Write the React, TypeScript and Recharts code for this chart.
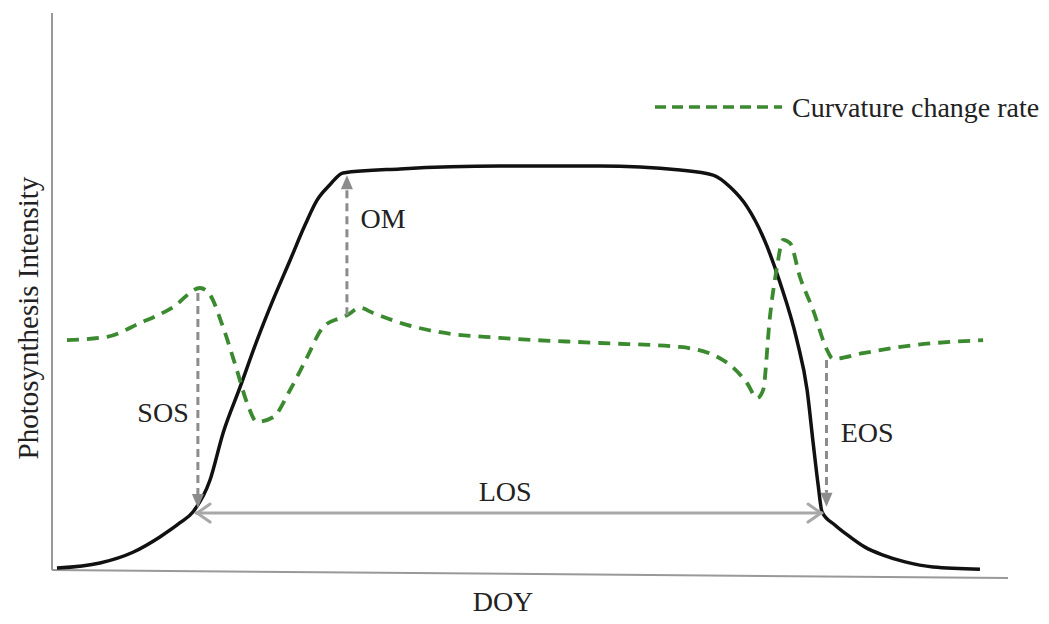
import React from 'react';
import { LineChart, Line, XAxis, YAxis, ReferenceLine, ReferenceDot, Legend } from 'recharts';

// fitted photosynthesis curve (DOY vs intensity, 0..1)
const sigDoy = [1.9, 18.3, 30.9, 41.2, 48.9, 53.8, 60.3, 65.3, 71.8, 78.3, 84.4, 90.9, 96.6, 101.2, 106.1, 111.1, 132.9, 171.0, 209.2, 239.8, 252.4, 258.9, 265.4, 271.5, 278.0, 284.4, 288.3, 290.6, 292.5, 294.0, 298.9, 304.7, 310.4, 317.3, 325.7, 336.4, 354.3];
const sigValue = [0.021, 0.03, 0.049, 0.076, 0.101, 0.12, 0.176, 0.259, 0.34, 0.423, 0.494, 0.564, 0.626, 0.67, 0.697, 0.718, 0.725, 0.73, 0.73, 0.723, 0.714, 0.693, 0.658, 0.605, 0.524, 0.423, 0.335, 0.242, 0.168, 0.12, 0.097, 0.076, 0.058, 0.044, 0.032, 0.023, 0.019];

// curvature change rate
const curvDoy = [5.7, 21.0, 33.6, 46.2, 56.5, 60.3, 65.3, 70.6, 74.5, 78.3, 84.4, 90.9, 97.4, 103.5, 110.0, 112.6, 117.6, 122.6, 135.5, 148.1, 171.0, 209.2, 239.8, 256.2, 265.4, 269.2, 271.5, 274.1, 276.8, 279.1, 281.8, 285.6, 290.6, 295.9, 298.2, 309.6, 328.7, 355.5];
const curvValue = [0.423, 0.429, 0.453, 0.481, 0.515, 0.503, 0.446, 0.37, 0.312, 0.279, 0.287, 0.335, 0.393, 0.446, 0.462, 0.467, 0.48, 0.471, 0.45, 0.437, 0.427, 0.418, 0.411, 0.388, 0.347, 0.321, 0.335, 0.464, 0.552, 0.6, 0.594, 0.534, 0.476, 0.406, 0.39, 0.4, 0.414, 0.423];

// phenology markers
const sosDoy = 55.7;
const omDoy = 112.6;
const eosDoy = 295.7;
const losStart = 55.0;
const losEnd = 294.0;

const sigData = sigDoy.map((d, i) => ({ doy: d, intensity: sigValue[i] }));
const curvData = curvDoy.map((d, i) => ({ doy: d, curvature: curvValue[i] }));

const FONT = '"Liberation Serif", "Times New Roman", serif';
const GREEN = '#3b8a30';

const dashedArrow = (props: any) => {
  const { x1, y1, x2, y2 } = props;
  const dx = x2 - x1;
  const dy = y2 - y1;
  const len = Math.sqrt(dx * dx + dy * dy) || 1;
  const ux = dx / len;
  const uy = dy / len;
  const head = 14;
  const half = 6;
  const bx = x2 - ux * head;
  const by = y2 - uy * head;
  return (
    <g>
      <line x1={x1} y1={y1} x2={bx} y2={by} stroke="#8c8c8c" strokeWidth={3} strokeDasharray="8 5" />
      <polygon
        points={`${x2},${y2} ${bx - uy * half},${by + ux * half} ${bx + uy * half},${by - ux * half}`}
        fill="#8c8c8c"
      />
    </g>
  );
};

const doubleArrow = (props: any) => {
  const { x1, y1, x2, y2 } = props;
  const a = 14;
  const b = 9;
  return (
    <g stroke="#a8a8a8" strokeWidth={3} fill="none" strokeLinecap="round" strokeLinejoin="round">
      <line x1={x1} y1={y1} x2={x2} y2={y2} />
      <polyline points={`${x1 + a},${y1 - b} ${x1 + 1},${y1} ${x1 + a},${y1 + b}`} />
      <polyline points={`${x2 - a},${y2 - b} ${x2 - 1},${y2} ${x2 - a},${y2 + b}`} />
    </g>
  );
};

const textStyle = { fill: '#222', fontSize: 28, fontFamily: FONT };

const renderLegend = () => (
  <svg width={399} height={36}>
    <line x1={5} y1={18} x2={132} y2={18} stroke={GREEN} strokeWidth={3.5} strokeDasharray="11 6" />
    <text x={142} y={18} dominantBaseline="central" fontSize={28} fontFamily={FONT} fill="#222">
      Curvature change rate
    </text>
  </svg>
);

export default function App() {
  return (
    <div style={{ position: 'absolute', left: 0, top: 0, background: '#fff' }}>
      <LineChart width={1049} height={624} margin={{ top: 13, right: 41, bottom: 44, left: 52 }}>
        <XAxis dataKey="doy" type="number" domain={[0, 365]} height={0} axisLine={false} tick={false} tickLine={false} />
        <YAxis type="number" domain={[0, 1]} width={0} axisLine={false} tick={false} tickLine={false} />
        <Legend
          content={renderLegend}
          layout="horizontal"
          verticalAlign="middle"
          align="center"
          wrapperStyle={{ top: 89, left: 650, width: 399, height: 36 }}
        />

        <ReferenceLine segment={[{ x: 0, y: 0.0176 }, { x: 0, y: 1 }]} stroke="#999" strokeWidth={2} />
        <ReferenceLine segment={[{ x: 0, y: 0.0176 }, { x: 365, y: 0.0035 }]} stroke="#999" strokeWidth={2} />

        <Line
          data={sigData}
          dataKey="intensity"
          type="monotone"
          stroke="#111"
          strokeWidth={3.5}
          dot={false}
          isAnimationActive={false}
        />
        <Line
          data={curvData}
          dataKey="curvature"
          type="monotone"
          stroke={GREEN}
          strokeWidth={3.8}
          strokeDasharray="12 8"
          dot={false}
          isAnimationActive={false}
        />

        <ReferenceLine segment={[{ x: sosDoy, y: 0.506 }, { x: sosDoy, y: 0.127 }]} shape={dashedArrow} />
        <ReferenceLine segment={[{ x: omDoy, y: 0.467 }, { x: omDoy, y: 0.714 }]} shape={dashedArrow} />
        <ReferenceLine segment={[{ x: eosDoy, y: 0.388 }, { x: eosDoy, y: 0.129 }]} shape={dashedArrow} />
        <ReferenceLine segment={[{ x: losStart, y: 0.118 }, { x: losEnd, y: 0.118 }]} shape={doubleArrow} />

        <ReferenceDot x={42.4} y={0.296} r={0} ifOverflow="visible" label={{ value: 'SOS', position: 'center', ...textStyle }} />
        <ReferenceDot x={126.4} y={0.638} r={0} ifOverflow="visible" label={{ value: 'OM', position: 'center', ...textStyle }} />
        <ReferenceDot x={311.2} y={0.261} r={0} ifOverflow="visible" label={{ value: 'EOS', position: 'center', ...textStyle }} />
        <ReferenceDot x={173.0} y={0.156} r={0} ifOverflow="visible" label={{ value: 'LOS', position: 'center', ...textStyle }} />
        <ReferenceDot x={172.2} y={-0.037} r={0} ifOverflow="visible" label={{ value: 'DOY', position: 'center', ...textStyle }} />
        <ReferenceDot
          x={-9.2}
          y={0.462}
          r={0}
          ifOverflow="visible"
          label={{ value: 'Photosynthesis Intensity', position: 'center', angle: -90, ...textStyle, fontSize: 29 }}
        />
      </LineChart>
    </div>
  );
}
